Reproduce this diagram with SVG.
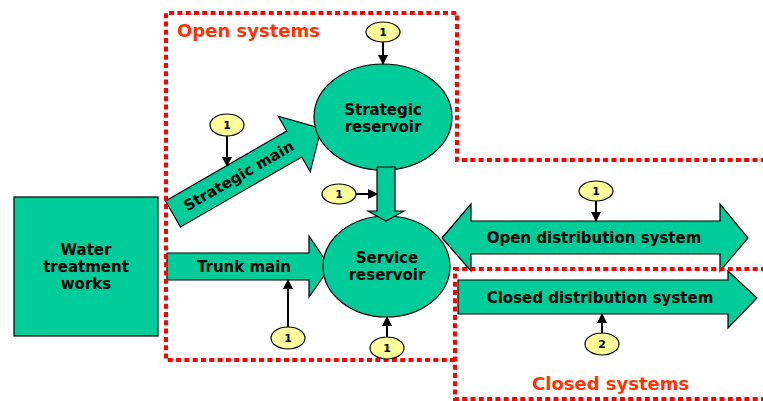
<svg xmlns="http://www.w3.org/2000/svg" width="763" height="401" viewBox="0 0 763 401">
<defs>
<style>
.shape{fill:#00cc99;stroke:#000;stroke-width:1.2}
.lbl{font-family:"DejaVu Sans","Verdana",sans-serif;font-weight:bold;font-size:15px;fill:#000;text-anchor:middle}
.badge{fill:#ffff99;stroke:#000;stroke-width:1.2}
.btxt{font-family:"DejaVu Sans",sans-serif;font-weight:bold;font-size:11px;fill:#000;text-anchor:middle}
.conn{stroke:#000;stroke-width:2;fill:none;marker-end:url(#ah)}
.zone{fill:none;stroke:#ff0000;stroke-width:4;stroke-dasharray:5 3.3}
.ztxt{font-family:"DejaVu Sans",sans-serif;font-weight:bold;font-size:18px;fill:#ff3300}
</style>
<marker id="ah" markerUnits="userSpaceOnUse" markerWidth="10" markerHeight="10" refX="9" refY="5" orient="auto">
<path d="M0,0 L10,5 L0,10 Z" fill="#000"/>
</marker>
</defs>

<g id="water-treatment-works">
<rect class="shape" x="14" y="197" width="144" height="139"/>
<text class="lbl" x="86" y="255">Water</text>
<text class="lbl" x="86" y="272">treatment</text>
<text class="lbl" x="86" y="289">works</text>
</g>

<g id="strategic-main">
<g transform="translate(173,214) rotate(-30)">
<path class="shape" d="M0,-15 H140 V-32 L171,0 L140,32 V15 H0 Z"/>
<text class="lbl" x="76" y="5">Strategic main</text>
</g>
</g>

<g id="trunk-main">
<path class="shape" d="M167,253 H309 V236 L330,267 L309,297 V280 H167 Z"/>
<text class="lbl" x="244" y="272">Trunk main</text>
</g>

<g id="strategic-reservoir">
<ellipse class="shape" cx="383" cy="117" rx="69" ry="53"/>
<text class="lbl" x="383" y="115">Strategic</text>
<text class="lbl" x="383" y="132">reservoir</text>
</g>

<g id="service-reservoir">
<ellipse class="shape" cx="386.5" cy="266.5" rx="63.5" ry="50.5"/>
<text class="lbl" x="387" y="263">Service</text>
<text class="lbl" x="387" y="280">reservoir</text>
</g>

<g id="transfer-arrow">
<path class="shape" d="M377,167 H395 V211 H404 L386,221 L368,211 H377 Z"/>
</g>

<g id="open-distribution-system">
<path class="shape" d="M442,238 L471,204 V221 H720 V204 L748,238 L720,271 V254 H471 V271 Z"/>
<text class="lbl" x="594" y="243">Open distribution system</text>
</g>

<g id="closed-distribution-system">
<path class="shape" d="M458,280 H728 V271 L757,298 L728,328 V314 H458 Z"/>
<text class="lbl" x="600" y="303">Closed distribution system</text>
</g>

<g id="zones">
<path class="zone" d="M455,360 H166 V13 H457 V160 H766"/>
<path class="zone" d="M766,269 H455 V399 H766"/>
<text class="ztxt" x="177" y="37">Open systems</text>
<text class="ztxt" x="532" y="390">Closed systems</text>
</g>

<g id="connectors">
<line class="conn" x1="383" y1="42" x2="383" y2="64"/>
<line class="conn" x1="227" y1="136" x2="227" y2="166"/>
<line class="conn" x1="356" y1="194" x2="377" y2="194"/>
<line class="conn" x1="288" y1="327" x2="288" y2="280"/>
<line class="conn" x1="387" y1="337" x2="387" y2="317"/>
<line class="conn" x1="596" y1="201" x2="596" y2="221"/>
<line class="conn" x1="602" y1="333" x2="602" y2="314"/>
</g>

<g id="badge-strategic-reservoir"><ellipse class="badge" cx="383" cy="32" rx="17" ry="10"/><text class="btxt" x="383" y="36">1</text></g>
<g id="badge-strategic-main"><ellipse class="badge" cx="227" cy="125" rx="17" ry="11"/><text class="btxt" x="227" y="129">1</text></g>
<g id="badge-transfer"><ellipse class="badge" cx="339" cy="194" rx="17" ry="10"/><text class="btxt" x="339" y="198">1</text></g>
<g id="badge-trunk-main"><ellipse class="badge" cx="288" cy="338" rx="17" ry="11"/><text class="btxt" x="288" y="342">1</text></g>
<g id="badge-service-reservoir"><ellipse class="badge" cx="387" cy="348" rx="17" ry="11"/><text class="btxt" x="387" y="352">1</text></g>
<g id="badge-open-distribution"><ellipse class="badge" cx="596" cy="191" rx="17" ry="10"/><text class="btxt" x="596" y="195">1</text></g>
<g id="badge-closed-distribution"><ellipse class="badge" cx="602" cy="344" rx="17" ry="11"/><text class="btxt" x="602" y="348">2</text></g>
</svg>
